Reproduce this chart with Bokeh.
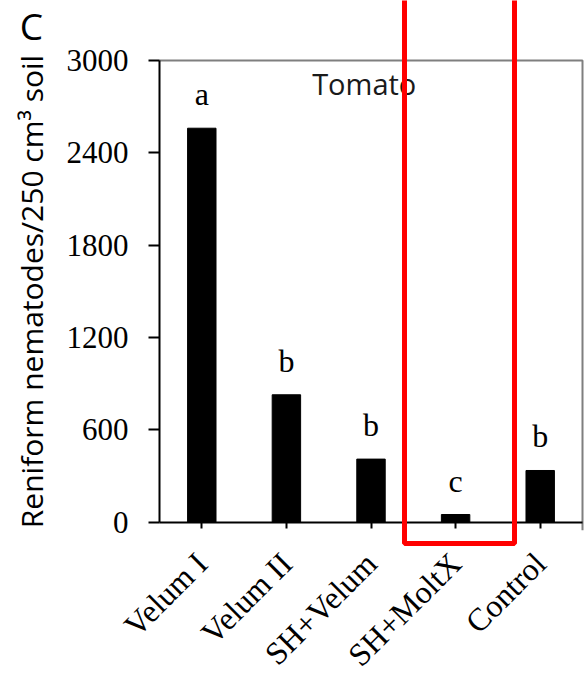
import math
from bokeh.plotting import figure
from bokeh.models import Range1d, Label, BoxAnnotation, ColumnDataSource, FixedTicker
from bokeh.core.properties import value
from bokeh.embed import file_html
from bokeh.resources import INLINE

categories = ["Velum I", "Velum II", "SH+Velum", "SH+MoltX", "Control"]
counts = [2560, 828, 410, 50, 336]
letters = ["a", "b", "b", "c", "b"]
y_ticks = [0, 600, 1200, 1800, 2400, 3000]
crop_title = "Tomato"
panel_letter = "C"
y_title = "Reniform nematodes/250 cm\u00b3 soil"

# layout (pixels): axes box inside the canvas
W, H = 584, 677
AX_L, AX_R, AX_T, AX_B = 159.0, 582.0, 60.0, 521.7
n = len(categories)
y_max = y_ticks[-1]
px_x = (AX_R - AX_L) / n          # px per category
px_y = (AX_B - AX_T) / y_max      # px per count unit

x_pos = [i + 0.5 for i in range(n)]
x_range = Range1d(-AX_L / px_x, n + (W - AX_R) / px_x)
y_range = Range1d(-(H - AX_B) / px_y, y_max + AX_T / px_y)

p = figure(width=W, height=H, x_range=x_range, y_range=y_range,
           output_backend="svg", toolbar_location=None,
           min_border=0, min_border_left=0, min_border_right=0,
           min_border_top=0, min_border_bottom=0)

p.xgrid.visible = False
p.ygrid.visible = False
p.background_fill_color = "white"
p.border_fill_color = "white"
p.outline_line_color = None

# gray plot-area border (top and right), right edge runs a little below the axis
p.line(x=[0, n, n], y=[y_max, y_max, -8 / px_y], line_color="#7f7f7f", line_width=2)

src = ColumnDataSource(dict(x=x_pos, val=counts, lab=letters))
p.vbar(x="x", top="val", width=0.336, source=src, color="black")
p.text(x="x", y="val", text="lab", source=src, y_offset=-16,
       text_align="center", text_baseline="bottom",
       text_font=value("Liberation Serif"), text_font_size="32px", text_color="black")

ya = p.yaxis[0]
ya.fixed_location = 0
ya.bounds = (0, y_max)
ya.ticker = FixedTicker(ticks=y_ticks)
ya.axis_line_color = "black"
ya.axis_line_width = 2
ya.major_tick_line_width = 2
ya.major_tick_out = 11
ya.major_tick_in = 0
ya.minor_tick_out = 0
ya.minor_tick_in = 0
ya.major_label_text_font = "Liberation Serif"
ya.major_label_text_font_size = "31px"
ya.major_label_text_color = "black"
ya.major_label_standoff = 20
ya.axis_label = y_title
ya.axis_label_text_font = "Open Sans"
ya.axis_label_text_font_size = "30px"
ya.axis_label_text_font_style = "normal"
ya.axis_label_text_color = "black"
ya.axis_label_standoff = 12

xa = p.xaxis[0]
xa.fixed_location = 0
xa.bounds = (0, n)
xa.ticker = FixedTicker(ticks=x_pos)
xa.major_label_overrides = {x: c for x, c in zip(x_pos, categories)}
xa.axis_line_color = "black"
xa.axis_line_width = 2
xa.major_tick_line_width = 2
xa.major_tick_out = 6
xa.major_tick_in = 0
xa.minor_tick_out = 0
xa.minor_tick_in = 0
xa.major_label_orientation = math.pi / 4
xa.major_label_text_font = "Liberation Serif"
xa.major_label_text_font_size = "32px"
xa.major_label_text_color = "black"
xa.major_label_standoff = 30

p.add_layout(Label(x=2.42, y=2850, text=crop_title, text_align="center",
                   text_baseline="middle", text_font="Open Sans",
                   text_font_size="29px", text_color="#1a1a1a"))
p.add_layout(Label(x=(31 - AX_L) / px_x, y=(AX_B - 25) / px_y, text=panel_letter,
                   text_align="center", text_baseline="middle", text_font="Open Sans",
                   text_font_size="37px", text_color="black"))

p.add_layout(BoxAnnotation(left=(404 - AX_L) / px_x, right=(514 - AX_L) / px_x,
                           top=y_range.end + 100, bottom=-(543 - AX_B) / px_y,
                           fill_color=None, fill_alpha=0,
                           line_color="#ff0000", line_alpha=1.0, line_width=5))

open("out.html", "w").write(file_html(p, INLINE))
